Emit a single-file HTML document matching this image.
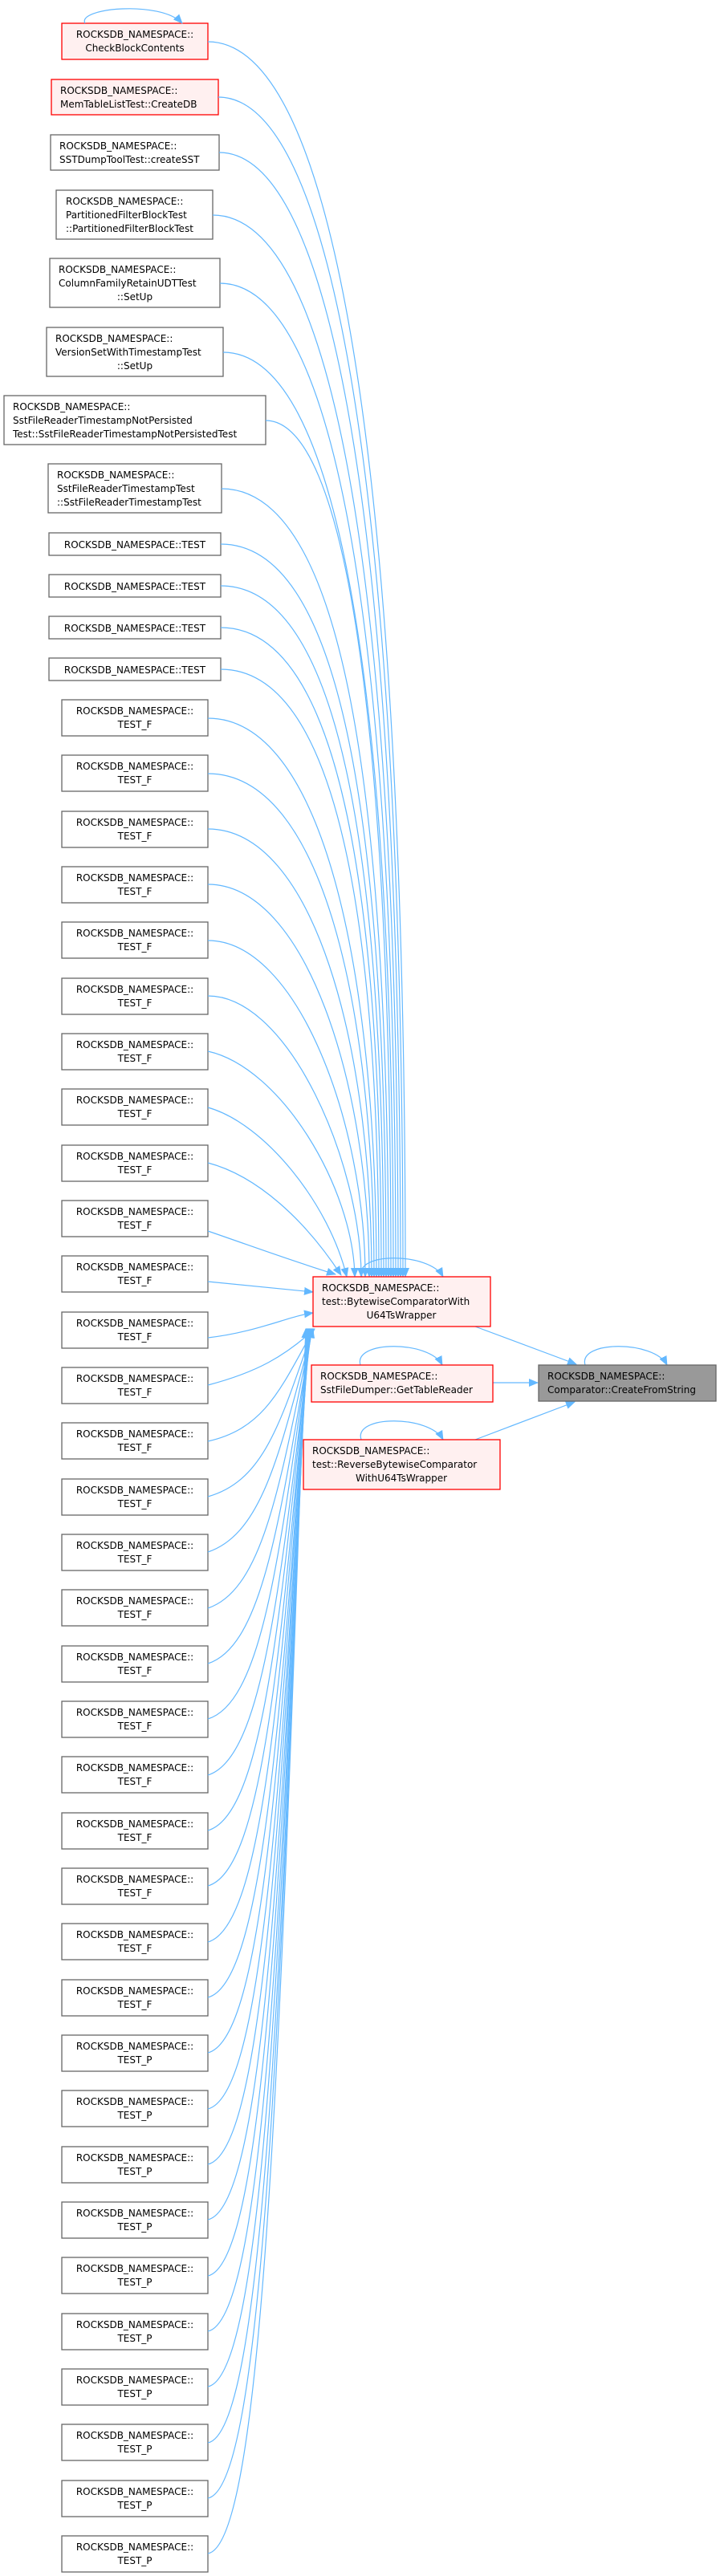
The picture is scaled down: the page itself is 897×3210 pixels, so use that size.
<!DOCTYPE html>
<html><head><meta charset="utf-8"><style>
html,body{margin:0;padding:0;background:#fff;}
svg{display:block;}
text{font-family:"DejaVu Sans","Liberation Sans",sans-serif;font-size:12px;fill:#000;}
.n{fill:#fff;stroke:#666;stroke-width:1.3;}
.r{fill:#fff0f0;stroke:#ff0000;stroke-width:1.3;}
.g{fill:#999;stroke:#666;stroke-width:1.3;}
.e{fill:none;stroke:#63b8ff;stroke-width:1.2;}
</style></head><body>
<svg width="897" height="3210" viewBox="0 0 897 3210" xmlns="http://www.w3.org/2000/svg">
<defs>
<marker id="a" markerUnits="userSpaceOnUse" markerWidth="12" markerHeight="10" refX="11" refY="5" orient="auto"><path d="M0,0 L12,5 L0,10 z" fill="#63b8ff"/></marker>
</defs>

<!-- Left nodes -->
<rect class="r" x="77" y="29" width="182" height="45"/>
<text x="168" y="47" text-anchor="middle">ROCKSDB_NAMESPACE::</text><text x="168" y="64" text-anchor="middle">CheckBlockContents</text>

<rect class="r" x="64" y="99" width="208" height="44"/>
<text x="75" y="117">ROCKSDB_NAMESPACE::</text><text x="75" y="134">MemTableListTest::CreateDB</text>

<rect class="n" x="63" y="168" width="210" height="44"/>
<text x="74" y="186">ROCKSDB_NAMESPACE::</text><text x="74" y="203">SSTDumpToolTest::createSST</text>

<rect class="n" x="70" y="237" width="195" height="61"/>
<text x="82" y="255">ROCKSDB_NAMESPACE::</text><text x="82" y="272">PartitionedFilterBlockTest</text><text x="82" y="289">::PartitionedFilterBlockTest</text>

<rect class="n" x="62" y="322" width="212" height="61"/>
<text x="73" y="340">ROCKSDB_NAMESPACE::</text><text x="73" y="357">ColumnFamilyRetainUDTTest</text><text x="168" y="374" text-anchor="middle">::SetUp</text>

<rect class="n" x="58" y="408" width="220" height="61"/>
<text x="69" y="426">ROCKSDB_NAMESPACE::</text><text x="69" y="443">VersionSetWithTimestampTest</text><text x="168" y="460" text-anchor="middle">::SetUp</text>

<rect class="n" x="5" y="493" width="326" height="61"/>
<text x="16" y="511">ROCKSDB_NAMESPACE::</text><text x="16" y="528">SstFileReaderTimestampNotPersisted</text><text x="16" y="545">Test::SstFileReaderTimestampNotPersistedTest</text>

<rect class="n" x="60" y="578" width="216" height="61"/>
<text x="71" y="596">ROCKSDB_NAMESPACE::</text><text x="71" y="613">SstFileReaderTimestampTest</text><text x="71" y="630">::SstFileReaderTimestampTest</text>

<rect class="n" x="61" y="664" width="214" height="28"/><text x="168" y="683" text-anchor="middle">ROCKSDB_NAMESPACE::TEST</text>
<rect class="n" x="61" y="716" width="214" height="28"/><text x="168" y="735" text-anchor="middle">ROCKSDB_NAMESPACE::TEST</text>
<rect class="n" x="61" y="768" width="214" height="28"/><text x="168" y="787" text-anchor="middle">ROCKSDB_NAMESPACE::TEST</text>
<rect class="n" x="61" y="820" width="214" height="28"/><text x="168" y="839" text-anchor="middle">ROCKSDB_NAMESPACE::TEST</text>

<g>
<rect class="n" x="77" y="872" width="182" height="45"/><text x="168" y="890" text-anchor="middle">ROCKSDB_NAMESPACE::</text><text x="168" y="907" text-anchor="middle">TEST_F</text>
<rect class="n" x="77" y="941" width="182" height="45"/><text x="168" y="959" text-anchor="middle">ROCKSDB_NAMESPACE::</text><text x="168" y="976" text-anchor="middle">TEST_F</text>
<rect class="n" x="77" y="1011" width="182" height="45"/><text x="168" y="1029" text-anchor="middle">ROCKSDB_NAMESPACE::</text><text x="168" y="1046" text-anchor="middle">TEST_F</text>
<rect class="n" x="77" y="1080" width="182" height="45"/><text x="168" y="1098" text-anchor="middle">ROCKSDB_NAMESPACE::</text><text x="168" y="1115" text-anchor="middle">TEST_F</text>
<rect class="n" x="77" y="1149" width="182" height="45"/><text x="168" y="1167" text-anchor="middle">ROCKSDB_NAMESPACE::</text><text x="168" y="1184" text-anchor="middle">TEST_F</text>
<rect class="n" x="77" y="1219" width="182" height="45"/><text x="168" y="1237" text-anchor="middle">ROCKSDB_NAMESPACE::</text><text x="168" y="1254" text-anchor="middle">TEST_F</text>
<rect class="n" x="77" y="1288" width="182" height="45"/><text x="168" y="1306" text-anchor="middle">ROCKSDB_NAMESPACE::</text><text x="168" y="1323" text-anchor="middle">TEST_F</text>
<rect class="n" x="77" y="1357" width="182" height="45"/><text x="168" y="1375" text-anchor="middle">ROCKSDB_NAMESPACE::</text><text x="168" y="1392" text-anchor="middle">TEST_F</text>
<rect class="n" x="77" y="1427" width="182" height="45"/><text x="168" y="1445" text-anchor="middle">ROCKSDB_NAMESPACE::</text><text x="168" y="1462" text-anchor="middle">TEST_F</text>
<rect class="n" x="77" y="1496" width="182" height="45"/><text x="168" y="1514" text-anchor="middle">ROCKSDB_NAMESPACE::</text><text x="168" y="1531" text-anchor="middle">TEST_F</text>
<rect class="n" x="77" y="1565" width="182" height="45"/><text x="168" y="1583" text-anchor="middle">ROCKSDB_NAMESPACE::</text><text x="168" y="1600" text-anchor="middle">TEST_F</text>
<rect class="n" x="77" y="1635" width="182" height="45"/><text x="168" y="1653" text-anchor="middle">ROCKSDB_NAMESPACE::</text><text x="168" y="1670" text-anchor="middle">TEST_F</text>
<rect class="n" x="77" y="1704" width="182" height="45"/><text x="168" y="1722" text-anchor="middle">ROCKSDB_NAMESPACE::</text><text x="168" y="1739" text-anchor="middle">TEST_F</text>
<rect class="n" x="77" y="1773" width="182" height="45"/><text x="168" y="1791" text-anchor="middle">ROCKSDB_NAMESPACE::</text><text x="168" y="1808" text-anchor="middle">TEST_F</text>
<rect class="n" x="77" y="1843" width="182" height="45"/><text x="168" y="1861" text-anchor="middle">ROCKSDB_NAMESPACE::</text><text x="168" y="1878" text-anchor="middle">TEST_F</text>
<rect class="n" x="77" y="1912" width="182" height="45"/><text x="168" y="1930" text-anchor="middle">ROCKSDB_NAMESPACE::</text><text x="168" y="1947" text-anchor="middle">TEST_F</text>
<rect class="n" x="77" y="1981" width="182" height="45"/><text x="168" y="1999" text-anchor="middle">ROCKSDB_NAMESPACE::</text><text x="168" y="2016" text-anchor="middle">TEST_F</text>
<rect class="n" x="77" y="2051" width="182" height="45"/><text x="168" y="2069" text-anchor="middle">ROCKSDB_NAMESPACE::</text><text x="168" y="2086" text-anchor="middle">TEST_F</text>
<rect class="n" x="77" y="2120" width="182" height="45"/><text x="168" y="2138" text-anchor="middle">ROCKSDB_NAMESPACE::</text><text x="168" y="2155" text-anchor="middle">TEST_F</text>
<rect class="n" x="77" y="2189" width="182" height="45"/><text x="168" y="2207" text-anchor="middle">ROCKSDB_NAMESPACE::</text><text x="168" y="2224" text-anchor="middle">TEST_F</text>
<rect class="n" x="77" y="2259" width="182" height="45"/><text x="168" y="2277" text-anchor="middle">ROCKSDB_NAMESPACE::</text><text x="168" y="2294" text-anchor="middle">TEST_F</text>
<rect class="n" x="77" y="2328" width="182" height="45"/><text x="168" y="2346" text-anchor="middle">ROCKSDB_NAMESPACE::</text><text x="168" y="2363" text-anchor="middle">TEST_F</text>
<rect class="n" x="77" y="2397" width="182" height="45"/><text x="168" y="2415" text-anchor="middle">ROCKSDB_NAMESPACE::</text><text x="168" y="2432" text-anchor="middle">TEST_F</text>
<rect class="n" x="77" y="2467" width="182" height="45"/><text x="168" y="2485" text-anchor="middle">ROCKSDB_NAMESPACE::</text><text x="168" y="2502" text-anchor="middle">TEST_F</text>
<rect class="n" x="77" y="2536" width="182" height="45"/><text x="168" y="2554" text-anchor="middle">ROCKSDB_NAMESPACE::</text><text x="168" y="2571" text-anchor="middle">TEST_P</text>
<rect class="n" x="77" y="2605" width="182" height="45"/><text x="168" y="2623" text-anchor="middle">ROCKSDB_NAMESPACE::</text><text x="168" y="2640" text-anchor="middle">TEST_P</text>
<rect class="n" x="77" y="2675" width="182" height="45"/><text x="168" y="2693" text-anchor="middle">ROCKSDB_NAMESPACE::</text><text x="168" y="2710" text-anchor="middle">TEST_P</text>
<rect class="n" x="77" y="2744" width="182" height="45"/><text x="168" y="2762" text-anchor="middle">ROCKSDB_NAMESPACE::</text><text x="168" y="2779" text-anchor="middle">TEST_P</text>
<rect class="n" x="77" y="2813" width="182" height="45"/><text x="168" y="2831" text-anchor="middle">ROCKSDB_NAMESPACE::</text><text x="168" y="2848" text-anchor="middle">TEST_P</text>
<rect class="n" x="77" y="2883" width="182" height="45"/><text x="168" y="2901" text-anchor="middle">ROCKSDB_NAMESPACE::</text><text x="168" y="2918" text-anchor="middle">TEST_P</text>
<rect class="n" x="77" y="2952" width="182" height="45"/><text x="168" y="2970" text-anchor="middle">ROCKSDB_NAMESPACE::</text><text x="168" y="2987" text-anchor="middle">TEST_P</text>
<rect class="n" x="77" y="3021" width="182" height="45"/><text x="168" y="3039" text-anchor="middle">ROCKSDB_NAMESPACE::</text><text x="168" y="3056" text-anchor="middle">TEST_P</text>
<rect class="n" x="77" y="3091" width="182" height="45"/><text x="168" y="3109" text-anchor="middle">ROCKSDB_NAMESPACE::</text><text x="168" y="3126" text-anchor="middle">TEST_P</text>
<rect class="n" x="77" y="3160" width="182" height="45"/><text x="168" y="3178" text-anchor="middle">ROCKSDB_NAMESPACE::</text><text x="168" y="3195" text-anchor="middle">TEST_P</text>
</g>

<!-- Edges upper -->
<g class="e" marker-end="url(#a)">
<path class="e" marker-end="url(#a)" d="M259,52 C420,52 505,600 505,1591"/>
<path class="e" marker-end="url(#a)" d="M272,121 C420,121 502,650 502,1591"/>
<path class="e" marker-end="url(#a)" d="M273,190 C420,190 499,700 499,1591"/>
<path class="e" marker-end="url(#a)" d="M265,268 C420,268 496,750 496,1591"/>
<path class="e" marker-end="url(#a)" d="M274,353 C420,353 493,800 493,1591"/>
<path class="e" marker-end="url(#a)" d="M278,439 C420,439 490,850 490,1591"/>
<path class="e" marker-end="url(#a)" d="M331,524 C430,524 487,900 487,1591"/>
<path class="e" marker-end="url(#a)" d="M276,609 C420,609 484,950 484,1591"/>
<path class="e" marker-end="url(#a)" d="M275,678 C420,678 481,1000 481,1591"/>
<path class="e" marker-end="url(#a)" d="M275,730 C420,730 478,1050 478,1591"/>
<path class="e" marker-end="url(#a)" d="M275,782 C420,782 475,1100 475,1591"/>
<path class="e" marker-end="url(#a)" d="M275,834 C420,834 472,1150 472,1591"/>
<path class="e" marker-end="url(#a)" d="M259,895 C400,895 469,1200 469,1591"/>
<path class="e" marker-end="url(#a)" d="M259,964 C400,964 466,1250 466,1591"/>
<path class="e" marker-end="url(#a)" d="M259,1033 C390,1033 463,1300 463,1591"/>
<path class="e" marker-end="url(#a)" d="M259,1102 C380,1102 460,1350 460,1591"/>
<path class="e" marker-end="url(#a)" d="M259,1172 C370,1172 455,1400 455,1591"/>
<path class="e" marker-end="url(#a)" d="M259,1241 C360,1241 450,1450 450,1591"/>
<path class="e" marker-end="url(#a)" d="M259,1310 C350,1330 440,1480 442,1591"/>
<path class="e" marker-end="url(#a)" d="M259,1380 C330,1400 410,1500 432,1591"/>
<path class="e" marker-end="url(#a)" d="M259,1449 C320,1465 380,1520 425,1589"/>
<path class="e" marker-end="url(#a)" d="M259,1534 C320,1555 360,1570 418,1588"/>
<path class="e" marker-end="url(#a)" d="M259,1597 C320,1603 360,1607 390,1610"/>
<path class="e" marker-end="url(#a)" d="M259,1667 C320,1660 360,1640 390,1636"/>
<!-- lower -->
<path class="e" marker-end="url(#a)" d="M259,1726 C320,1710 355,1690 392,1656"/>
<path class="e" marker-end="url(#a)" d="M259,1796 C330,1780 350,1730 391,1656"/>
<path class="e" marker-end="url(#a)" d="M259,1865 C330,1845 350,1770 390,1656"/>
<path class="e" marker-end="url(#a)" d="M259,1934 C330,1910 350,1800 390,1656"/>
<path class="e" marker-end="url(#a)" d="M259,2004 C330,1980 350,1840 389,1656"/>
<path class="e" marker-end="url(#a)" d="M259,2073 C330,2050 350,1880 389,1656"/>
<path class="e" marker-end="url(#a)" d="M259,2142 C330,2120 350,1920 388,1656"/>
<path class="e" marker-end="url(#a)" d="M259,2212 C330,2190 350,1960 388,1656"/>
<path class="e" marker-end="url(#a)" d="M259,2281 C330,2260 350,2000 387,1656"/>
<path class="e" marker-end="url(#a)" d="M259,2350 C330,2330 350,2040 387,1656"/>
<path class="e" marker-end="url(#a)" d="M259,2420 C330,2400 350,2080 386,1656"/>
<path class="e" marker-end="url(#a)" d="M259,2489 C330,2470 350,2120 386,1656"/>
<path class="e" marker-end="url(#a)" d="M259,2558 C330,2540 350,2160 385,1656"/>
<path class="e" marker-end="url(#a)" d="M259,2628 C330,2610 350,2200 385,1656"/>
<path class="e" marker-end="url(#a)" d="M259,2697 C330,2680 350,2240 384,1656"/>
<path class="e" marker-end="url(#a)" d="M259,2766 C330,2750 350,2280 384,1656"/>
<path class="e" marker-end="url(#a)" d="M259,2836 C330,2820 350,2320 383,1656"/>
<path class="e" marker-end="url(#a)" d="M259,2905 C330,2890 350,2360 383,1656"/>
<path class="e" marker-end="url(#a)" d="M259,2974 C330,2960 350,2400 382,1656"/>
<path class="e" marker-end="url(#a)" d="M259,3044 C330,3030 350,2440 382,1656"/>
<path class="e" marker-end="url(#a)" d="M259,3113 C330,3100 350,2480 381,1656"/>
<path class="e" marker-end="url(#a)" d="M259,3182 C330,3170 350,2520 381,1656"/>
<!-- right side -->
<path class="e" marker-end="url(#a)" d="M592,1653 L718,1700"/>
<path class="e" marker-end="url(#a)" d="M614,1723 L670,1723"/>
<path class="e" marker-end="url(#a)" d="M592,1794 L716,1747"/>
<!-- self loops -->
<path class="e" marker-end="url(#a)" d="M106,29 C95,10 200,0 227,29"/>
<path class="e" marker-end="url(#a)" d="M451,1591 C440,1560 535,1560 552,1591"/>
<path class="e" marker-end="url(#a)" d="M449,1701 C440,1670 535,1670 551,1701"/>
<path class="e" marker-end="url(#a)" d="M450,1794 C440,1763 535,1763 552,1794"/>
<path class="e" marker-end="url(#a)" d="M729,1701 C720,1670 815,1670 831,1701"/>
</g>

<!-- Center nodes -->
<rect class="r" x="390" y="1591" width="221" height="62"/>
<text x="401" y="1609">ROCKSDB_NAMESPACE::</text><text x="401" y="1626">test::BytewiseComparatorWith</text><text x="500" y="1643" text-anchor="middle">U64TsWrapper</text>

<rect class="r" x="388" y="1701" width="226" height="46"/>
<text x="399" y="1719">ROCKSDB_NAMESPACE::</text><text x="399" y="1736">SstFileDumper::GetTableReader</text>

<rect class="r" x="378" y="1794" width="245" height="62"/>
<text x="389" y="1812">ROCKSDB_NAMESPACE::</text><text x="389" y="1829">test::ReverseBytewiseComparator</text><text x="500" y="1846" text-anchor="middle">WithU64TsWrapper</text>

<rect class="g" x="671" y="1701" width="221" height="45"/>
<text x="682" y="1719">ROCKSDB_NAMESPACE::</text><text x="682" y="1736">Comparator::CreateFromString</text>
</svg>
</body></html>
